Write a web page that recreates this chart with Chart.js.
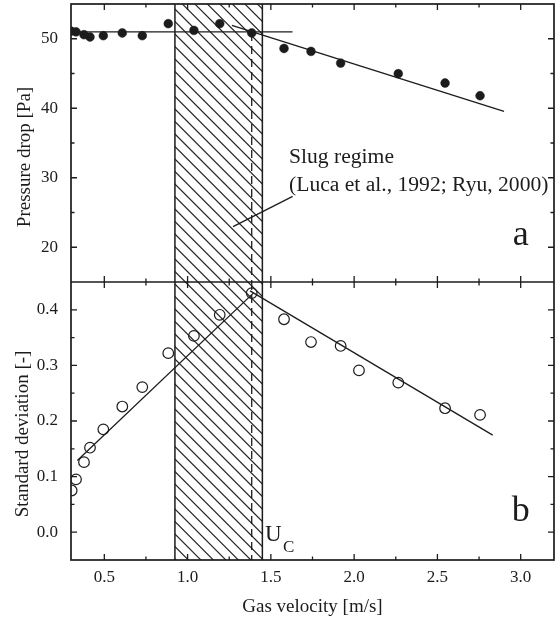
<!DOCTYPE html>
<html><head><meta charset="utf-8">
<script src="https://cdn.jsdelivr.net/npm/chart.js@4"></script>
<style>html,body{margin:0;padding:0;background:#fff;overflow:hidden}canvas{display:block}</style>
</head><body>
<canvas id="c" width="556" height="619"></canvas>
<script>
// ---- data ----
const pressureVelocity = [0.30, 0.33, 0.378, 0.414, 0.494, 0.608, 0.728, 0.884, 1.038, 1.193, 1.385, 1.579, 1.741, 1.919, 2.265, 2.546, 2.756];
const pressureDrop     = [51.1, 51.0, 50.58, 50.25, 50.44, 50.83, 50.44, 52.17, 51.2, 52.17, 50.83, 48.6, 48.18, 46.5, 44.97, 43.63, 41.8];
const stdVelocity      = [0.304, 0.33, 0.378, 0.414, 0.494, 0.608, 0.728, 0.884, 1.038, 1.193, 1.385, 1.579, 1.741, 1.919, 2.029, 2.265, 2.546, 2.756];
const stdDeviation     = [0.075, 0.095, 0.126, 0.152, 0.185, 0.226, 0.261, 0.322, 0.353, 0.391, 0.430, 0.383, 0.342, 0.335, 0.291, 0.269, 0.223, 0.211];
// fitted lines
const pressureFlatX  = [0.30, 1.63];   const pressureFlatY  = [51.0, 51.0];
const pressureSlopeX = [1.266, 2.9];   const pressureSlopeY = [51.92, 39.55];
const stdRiseX = [0.338, 1.395];       const stdRiseY = [0.129, 0.430];
const stdFallX = [1.375, 2.832];       const stdFallY = [0.434, 0.1745];
// annotation geometry (data units)
const leaderX = [1.273, 1.631];        const leaderY = [22.96, 27.32];
const slugRange = [0.924, 1.449];
const uCritical = 1.385;
const uCriticalTopY = [50.83, 15];     const uCriticalBottomY = [0.45, -0.05];
// ticks
const xTicks = [0.5, 1.0, 1.5, 2.0, 2.5, 3.0];
const xMinorTicks = [0.75, 1.25, 1.75, 2.25, 2.75];
const pTicks = [20, 30, 40, 50];
const pMinorTicks = [25, 35, 45];
const sTicks = [0.0, 0.1, 0.2, 0.3, 0.4];
const sMinorTicks = [0.05, 0.15, 0.25, 0.35];
// texts
const slugLabel = ['Slug regime', '(Luca et al., 1992; Ryu, 2000)'];
const xTitle = 'Gas velocity [m/s]';
const pTitle = 'Pressure drop [Pa]';
const sTitle = 'Standard deviation [-]';

const FONT = "'Liberation Serif','Times New Roman',serif";
const INK = '#1c1c1c';
const pts = (xs, ys) => xs.map((x, i) => ({x, y: ys[i]}));
const lineDs = (xs, ys, axis, extra) => Object.assign({
  type: 'line', data: pts(xs, ys), yAxisID: axis, showLine: true, pointRadius: 0,
  borderColor: INK, borderWidth: 1.3, fill: false, tension: 0, clip: 0
}, extra || {});
const noPad = s => { s.paddingTop = 0; s.paddingBottom = 0; s.paddingLeft = 0; s.paddingRight = 0; };

const hatchPlugin = {
  id: 'hatch',
  beforeDatasetsDraw(chart) {
    const {ctx, chartArea: a, scales: {x}} = chart;
    const x1 = x.getPixelForValue(slugRange[0]), x2 = x.getPixelForValue(slugRange[1]);
    ctx.save();
    ctx.beginPath(); ctx.rect(x1, a.top, x2 - x1, a.bottom - a.top); ctx.clip();
    ctx.strokeStyle = '#262626'; ctx.lineWidth = 1.2;
    ctx.beginPath();
    for (let c = a.top - x2 - 20; c < a.bottom - x1 + 20; c += 12.5) {
      ctx.moveTo(x1 - 5, x1 - 5 + c); ctx.lineTo(x2 + 5, x2 + 5 + c);
    }
    ctx.stroke();
    ctx.restore();
    ctx.save();
    ctx.strokeStyle = INK; ctx.lineWidth = 1.5;
    ctx.beginPath();
    ctx.moveTo(x1, a.top); ctx.lineTo(x1, a.bottom);
    ctx.moveTo(x2, a.top); ctx.lineTo(x2, a.bottom);
    ctx.stroke();
    ctx.restore();
  }
};

const framePlugin = {
  id: 'frame',
  afterDraw(chart) {
    const {ctx, chartArea: a, scales: {x, yP, yS}} = chart;
    const mid = yP.bottom;
    ctx.save();
    ctx.strokeStyle = INK; ctx.lineWidth = 1.7;
    ctx.strokeRect(a.left, a.top, a.right - a.left, a.bottom - a.top);
    ctx.beginPath(); ctx.moveTo(a.left, mid); ctx.lineTo(a.right, mid); ctx.stroke();
    ctx.lineWidth = 1.3;
    ctx.beginPath();
    const xt = (v, len) => {
      const p = x.getPixelForValue(v);
      ctx.moveTo(p, a.top); ctx.lineTo(p, a.top + len);
      ctx.moveTo(p, mid - len); ctx.lineTo(p, mid + len);
      ctx.moveTo(p, a.bottom); ctx.lineTo(p, a.bottom - len);
    };
    xTicks.forEach(v => xt(v, 6)); xMinorTicks.forEach(v => xt(v, 3.5));
    const yt = (s, v, len) => {
      const p = s.getPixelForValue(v);
      ctx.moveTo(a.left, p); ctx.lineTo(a.left + len, p);
      ctx.moveTo(a.right, p); ctx.lineTo(a.right - len, p);
    };
    pTicks.forEach(v => yt(yP, v, 6)); pMinorTicks.forEach(v => yt(yP, v, 3.5));
    sTicks.forEach(v => yt(yS, v, 6)); sMinorTicks.forEach(v => yt(yS, v, 3.5));
    ctx.stroke();

    // texts
    ctx.fillStyle = INK;
    ctx.textBaseline = 'middle'; ctx.textAlign = 'center';
    ctx.font = '19px ' + FONT;
    ctx.fillText(xTitle, (a.left + a.right) / 2, 607);
    ctx.save(); ctx.translate(25, (yP.top + yP.bottom) / 2 + 14); ctx.rotate(-Math.PI / 2);
    ctx.fillText(pTitle, 0, 0); ctx.restore();
    ctx.save(); ctx.translate(23, (yS.top + yS.bottom) / 2 + 13); ctx.rotate(-Math.PI / 2);
    ctx.fillText(sTitle, 0, 0); ctx.restore();

    ctx.textBaseline = 'alphabetic'; ctx.textAlign = 'left';
    ctx.font = '21.6px ' + FONT;
    ctx.fillText(slugLabel[0], x.getPixelForValue(1.609), yP.getPixelForValue(32.1));
    ctx.fillText(slugLabel[1], x.getPixelForValue(1.609), yP.getPixelForValue(28.1));
    ctx.textAlign = 'center';
    ctx.font = '36px ' + FONT;
    ctx.fillText('a', x.getPixelForValue(3.0), yP.getPixelForValue(20.37));
    ctx.fillText('b', x.getPixelForValue(3.0), yS.getPixelForValue(0.02));
    ctx.textAlign = 'left';
    ctx.font = '23px ' + FONT;
    const ux = x.getPixelForValue(1.465);
    ctx.fillText('U', ux, yS.getPixelForValue(-0.015));
    ctx.font = '17px ' + FONT;
    ctx.fillText('C', ux + 18, yS.getPixelForValue(-0.035));
    ctx.restore();
  }
};

new Chart(document.getElementById('c').getContext('2d'), {
  type: 'scatter',
  data: {
    datasets: [
      lineDs(pressureFlatX, pressureFlatY, 'yP'),
      lineDs(pressureSlopeX, pressureSlopeY, 'yP'),
      lineDs(leaderX, leaderY, 'yP'),
      lineDs([uCritical, uCritical], uCriticalTopY, 'yP', {borderDash: [8, 5], borderWidth: 1.3}),
      lineDs([uCritical, uCritical], uCriticalBottomY, 'yS', {borderDash: [8, 5], borderWidth: 1.3}),
      lineDs(stdRiseX, stdRiseY, 'yS'),
      lineDs(stdFallX, stdFallY, 'yS'),
      {data: pts(pressureVelocity, pressureDrop), yAxisID: 'yP', pointRadius: 4.4, pointBackgroundColor: INK,
       pointBorderColor: INK, pointBorderWidth: 0.5, clip: 0},
      {data: pts(stdVelocity, stdDeviation), yAxisID: 'yS', pointRadius: 5.3, pointBackgroundColor: 'rgba(255,255,255,0)',
       pointBorderColor: INK, pointBorderWidth: 1.2, clip: 0}
    ]
  },
  options: {
    responsive: false, animation: false, devicePixelRatio: 1,
    layout: {autoPadding: false, padding: {top: 4, right: 2, left: 0, bottom: 0}},
    plugins: {legend: {display: false}, tooltip: {enabled: false}},
    scales: {
      x: {
        type: 'linear', position: 'bottom', min: 0.3, max: 3.2,
        grid: {display: false}, border: {display: false},
        afterBuildTicks: s => { s.ticks = xTicks.map(v => ({value: v})); },
        afterFit: s => { s.height = 59; noPad(s); },
        ticks: {font: {family: FONT, size: 17}, color: INK, padding: -1, maxRotation: 0, autoSkip: false,
                callback: v => v.toFixed(1)}
      },
      yS: {
        type: 'linear', position: 'left', stack: 'panels', stackWeight: 1, min: -0.05, max: 0.45,
        grid: {display: false}, border: {display: false},
        afterBuildTicks: s => { s.ticks = sTicks.map(v => ({value: v})); },
        afterFit: s => { s.width = 71; noPad(s); },
        ticks: {font: {family: FONT, size: 17}, color: INK, padding: 5, autoSkip: false, callback: v => v.toFixed(1)}
      },
      yP: {
        type: 'linear', position: 'left', stack: 'panels', stackWeight: 1, min: 15, max: 55,
        grid: {display: false}, border: {display: false},
        afterBuildTicks: s => { s.ticks = pTicks.map(v => ({value: v})); },
        afterFit: s => { s.width = 71; noPad(s); },
        ticks: {font: {family: FONT, size: 17}, color: INK, padding: 5, autoSkip: false, callback: v => String(v)}
      }
    }
  },
  plugins: [hatchPlugin, framePlugin]
});
</script>
</body></html>
